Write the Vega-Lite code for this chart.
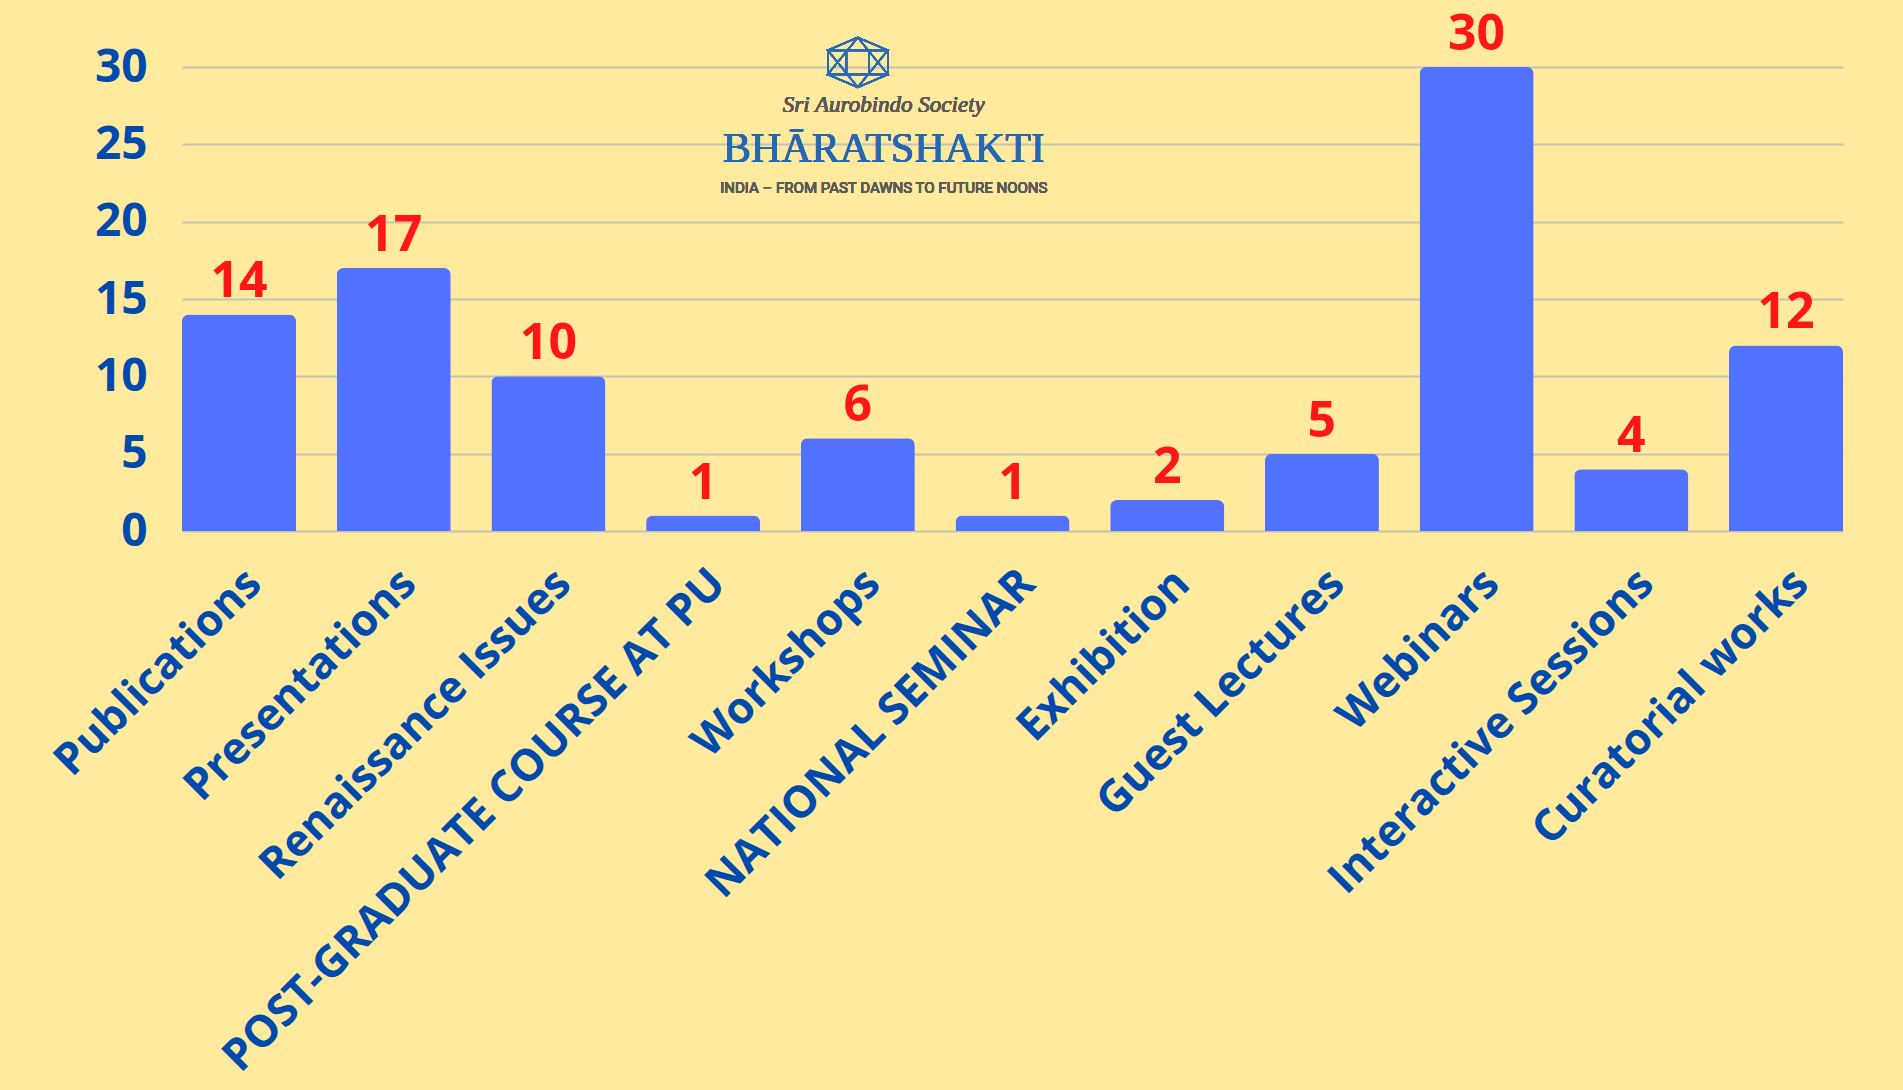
{
  "$schema": "https://vega.github.io/schema/vega-lite/v6.json",
  "autosize": {"type": "none"},
  "padding": {"left": 182, "top": 67, "right": 60, "bottom": 559},
  "width": 1661,
  "height": 464,
  "background": "#FFEA9D",
  "config": {"view": {"stroke": null}},
  "data": {
    "values": [
      {"category": "Publications", "value": 14},
      {"category": "Presentations", "value": 17},
      {"category": "Renaissance Issues", "value": 10},
      {"category": "POST-GRADUATE COURSE AT PU", "value": 1},
      {"category": "Workshops", "value": 6},
      {"category": "NATIONAL SEMINAR", "value": 1},
      {"category": "Exhibition", "value": 2},
      {"category": "Guest Lectures", "value": 5},
      {"category": "Webinars", "value": 30},
      {"category": "Interactive Sessions", "value": 4},
      {"category": "Curatorial works", "value": 12}
    ]
  },
  "encoding": {
    "x": {
      "field": "category",
      "type": "nominal",
      "sort": null,
      "scale": {"paddingInner": 0.263, "paddingOuter": 0},
      "axis": {
        "title": null,
        "labelAngle": -45,
        "labelFont": "Open Sans",
        "labelFontWeight": "bold",
        "labelFontSize": 44,
        "labelColor": "#004AAD",
        "labelPadding": 30,
        "labelLimit": 0,
        "ticks": false,
        "domain": false
      }
    },
    "y": {
      "field": "value",
      "type": "quantitative",
      "scale": {"domain": [0, 30], "nice": false},
      "axis": {
        "title": null,
        "values": [0, 5, 10, 15, 20, 25, 30],
        "labelFont": "Open Sans",
        "labelFontWeight": "bold",
        "labelFontSize": 46,
        "labelColor": "#004AAD",
        "labelPadding": 35,
        "ticks": false,
        "domain": false,
        "gridColor": "#C4C4B4",
        "gridWidth": 2
      }
    }
  },
  "layer": [
    {
      "mark": {"type": "bar", "color": "#5271FF", "cornerRadiusEnd": 7}
    },
    {
      "mark": {
        "type": "text",
        "color": "#FF1616",
        "font": "Open Sans",
        "fontWeight": "bold",
        "fontSize": 50,
        "baseline": "alphabetic",
        "dy": -17
      },
      "encoding": {"text": {"field": "value", "type": "quantitative"}}
    },
    {
      "mark": {
        "type": "point",
        "shape": "M0,-0.83L1,-0.4L1,0.4L0,0.83L-1,0.4L-1,-0.4Z M0,-0.83L1,0.4L-1,0.4Z M0,0.83L-1,-0.4L1,-0.4Z M-0.38,-0.4L0.38,-0.4L0.38,0.4L-0.38,0.4Z",
        "filled": false,
        "stroke": "#2A6BB5",
        "strokeWidth": 1.6,
        "size": 3600,
        "opacity": 1,
        "dx": 26
      },
      "encoding": {
        "x": {"datum": "Workshops", "type": "nominal"},
        "y": {"datum": 30.3, "type": "quantitative"}
      }
    },
    {
      "mark": {
        "type": "text",
        "text": "Sri Aurobindo Society",
        "font": "Liberation Serif",
        "fontStyle": "italic",
        "fontSize": 23,
        "color": "#5a5a5a",
        "baseline": "alphabetic",
        "dx": 26
      },
      "encoding": {
        "x": {"datum": "Workshops", "type": "nominal"},
        "y": {"datum": 27.08, "type": "quantitative"}
      }
    },
    {
      "mark": {
        "type": "text",
        "text": "BHĀRATSHAKTI",
        "font": "Liberation Serif",
        "fontSize": 42,
        "color": "#2468B4",
        "baseline": "alphabetic",
        "dx": 26
      },
      "encoding": {
        "x": {"datum": "Workshops", "type": "nominal"},
        "y": {"datum": 23.85, "type": "quantitative"}
      }
    },
    {
      "mark": {
        "type": "text",
        "text": "INDIA – FROM PAST DAWNS TO FUTURE NOONS",
        "font": "Roboto",
        "fontSize": 15,
        "color": "#5a5a5a",
        "baseline": "alphabetic",
        "dx": 26
      },
      "encoding": {
        "x": {"datum": "Workshops", "type": "nominal"},
        "y": {"datum": 21.85, "type": "quantitative"}
      }
    }
  ]
}
